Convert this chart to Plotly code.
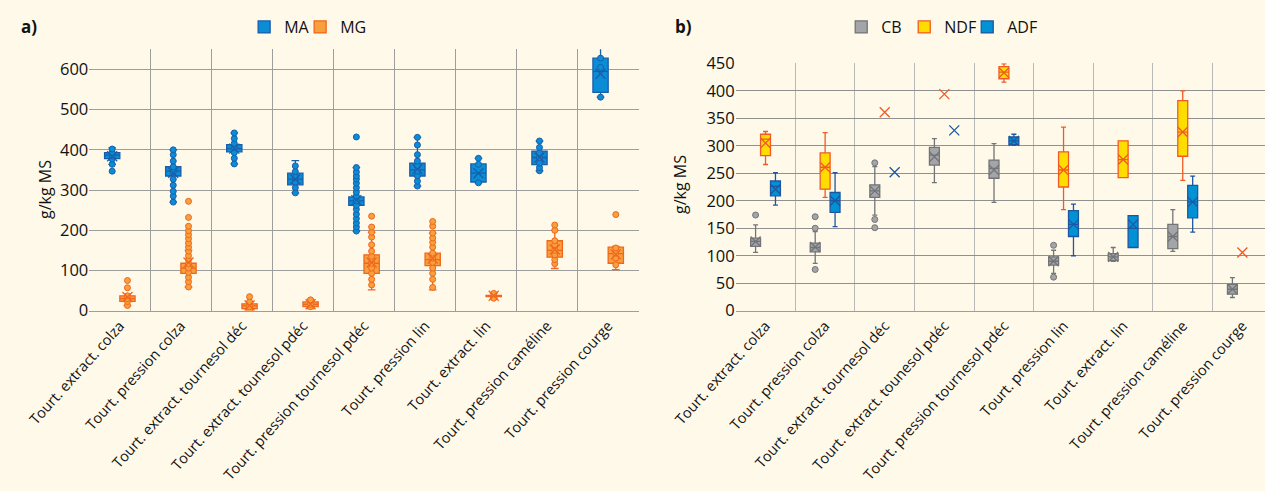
import plotly.graph_objects as go

CATS = ["Tourt. extract. colza", "Tourt. pression colza", "Tourt. extract. tournesol déc",
        "Tourt. extract. tounesol pdéc", "Tourt. pression tournesol pdéc", "Tourt. pression lin",
        "Tourt. extract. lin", "Tourt. pression caméline", "Tourt. pression courge"]

# ---- Panel a: MA / MG (g/kg MS) ----
MA_Q1 = [378, 335, 395, 313, 262, 335, 320, 363, 543]
MA_MED = [387, 347, 403, 327, 273, 350, 342, 381, 595]
MA_Q3 = [393, 358, 413, 342, 283, 367, 365, 397, 628]
MA_LO = [364, 270, 365, 293, 198, 310, 318, 348, 531]
MA_HI = [405, 400, 442, 373, 356, 431, 379, 422, 670]
MA_MEAN = [384, 343, 403, 327, 275, 352, 342, 381, 589]
MA_PTS = [[402, 393, 385, 377, 364, 347],
          [400, 388, 372, 358, 345, 327, 312, 297, 285, 270],
          [442, 428, 416, 406, 393, 379, 365],
          [360, 346, 332, 320, 306, 293],
          [432, 356, 345, 335, 327, 317, 306, 295, 285, 273, 262, 252, 240, 229, 218, 208, 198],
          [431, 412, 388, 372, 360, 347, 335, 322, 310],
          [379, 364, 318],
          [422, 406, 393, 380, 367, 356, 348],
          [628, 605, 531]]

MG_Q1 = [23, 93, 5, 10, 93, 112, 35, 133, 118]
MG_MED = [30, 106, 12, 16, 118, 127, 37, 150, 142]
MG_Q3 = [37, 118, 17, 22, 139, 143, 38, 174, 158]
MG_LO = [13, 59, 2, 5, 52, 52, 31, 105, 102]
MG_HI = [37, 150, 22, 28, 195, 193, 43, 200, 160]
MG_MEAN = [34, 120, 13, 16, 120, 130, 37, 152, 140]
MG_PTS = [[75, 57, 37, 30, 23, 13],
          [272, 232, 210, 199, 189, 179, 168, 158, 148, 137, 127, 117, 106, 95, 83, 72, 59],
          [35, 22, 10, 2],
          [27, 16, 10],
          [235, 208, 195, 183, 164, 148, 135, 127, 118, 106, 93, 78, 64],
          [222, 210, 193, 181, 170, 158, 143, 131, 120, 106, 93, 78, 58],
          [43, 31],
          [213, 200, 174, 164, 150, 139, 127, 117],
          [239, 156, 143, 131, 114]]

# ---- Panel b: CB / NDF / ADF (g/kg MS) ----
CB_Q1 = [117, 107, 206, 265, 241, 83, 91, 113, 30]
CB_MED = [126, 115, 218, 283, 259, 90, 98, 135, 39]
CB_Q3 = [132, 123, 229, 297, 274, 98, 104, 157, 48]
CB_LO = [106, 86, 174, 233, 197, 68, 90, 108, 24]
CB_HI = [156, 144, 262, 313, 304, 110, 115, 184, 60]
CB_MEAN = [126, 116, 218, 280, 256, 90, 98, 135, 39]
CB_PTS = [[174], [171, 150, 75], [269, 166, 151], [], [], [119, 61], [], [], []]

NDF_Q1 = [282, 221, None, None, 422, 225, 242, 281, None]
NDF_MED = [312, 261, None, None, 434, 256, 275, 325, None]
NDF_Q3 = [321, 287, None, None, 444, 289, 309, 382, None]
NDF_LO = [266, 206, None, None, 416, 184, 242, 237, None]
NDF_HI = [326, 324, None, None, 449, 334, 309, 400, None]
NDF_MEAN = [305, 261, 361, 394, 433, 256, 275, 325, 106]

ADF_Q1 = [209, 179, None, None, 302, 135, 115, 169, None]
ADF_MED = [226, 200, None, None, 309, 157, 150, 198, None]
ADF_Q3 = [236, 215, None, None, 316, 182, 173, 228, None]
ADF_LO = [192, 153, None, None, 301, 100, 115, 143, None]
ADF_HI = [251, 251, None, None, 321, 194, 173, 245, None]
ADF_MEAN = [221, 200, 252, 328, 309, 157, 157, 198, None]

BG = "#FFF9E9"
GRID = "#9E9E9E"
FONT = "Open Sans"

fig = go.Figure()


def add_series(name, q1, med, q3, lo, hi, mean, pts, fill, line, xa, ya, leg, psize):
    idx = [i for i in range(len(CATS)) if q1[i] is not None]
    fig.add_trace(go.Box(
        x=[CATS[i] for i in idx], q1=[q1[i] for i in idx], median=[med[i] for i in idx],
        q3=[q3[i] for i in idx], lowerfence=[lo[i] for i in idx], upperfence=[hi[i] for i in idx],
        name=name, offsetgroup=name, legend=leg, fillcolor=fill,
        line=dict(color=line, width=1.3), whiskerwidth=0.5, boxpoints=False,
        xaxis=xa, yaxis=ya, hoverinfo="skip"))
    if pts is not None:
        xs, ys = [], []
        for i, p in enumerate(pts):
            for v in p:
                xs.append(CATS[i])
                ys.append(v)
        if xs:
            fig.add_trace(go.Box(
                x=xs, y=ys, name=name, offsetgroup=name, legend=leg, showlegend=False,
                boxpoints="all", jitter=0, pointpos=0, fillcolor="rgba(0,0,0,0)",
                line=dict(width=0, color="rgba(0,0,0,0)"),
                marker=dict(size=psize, color=fill, line=dict(color=line, width=1)),
                xaxis=xa, yaxis=ya, hoverinfo="skip"))
    mi = [i for i in range(len(CATS)) if mean[i] is not None]
    fig.add_trace(go.Box(
        x=[CATS[i] for i in mi], y=[mean[i] for i in mi], name=name, offsetgroup=name,
        legend=leg, showlegend=False, boxpoints="all", jitter=0, pointpos=0,
        fillcolor="rgba(0,0,0,0)", line=dict(width=0, color="rgba(0,0,0,0)"),
        marker=dict(symbol="x-thin", size=10, color=line, line=dict(color=line, width=1.3)),
        xaxis=xa, yaxis=ya, hoverinfo="skip"))


def add_spacer(xa, ya, leg):
    # empty, invisible legend entry so the last real entry is not clipped
    fig.add_trace(go.Scatter(x=[None], y=[None], mode="markers", name=" ", legend=leg,
                             marker=dict(size=1, color="rgba(0,0,0,0)",
                                         line=dict(width=0, color="rgba(0,0,0,0)")),
                             xaxis=xa, yaxis=ya, hoverinfo="skip"))


add_series("MA", MA_Q1, MA_MED, MA_Q3, MA_LO, MA_HI, MA_MEAN, MA_PTS,
           "#0A8DD6", "#1A5EA8", "x", "y", "legend", 6)
add_series("MG", MG_Q1, MG_MED, MG_Q3, MG_LO, MG_HI, MG_MEAN, MG_PTS,
           "#F7A03C", "#F0661E", "x", "y", "legend", 6)
add_spacer("x", "y", "legend")
add_series("CB", CB_Q1, CB_MED, CB_Q3, CB_LO, CB_HI, CB_MEAN, CB_PTS,
           "#A3A5A8", "#727477", "x2", "y2", "legend2", 6)
add_series("NDF", NDF_Q1, NDF_MED, NDF_Q3, NDF_LO, NDF_HI, NDF_MEAN, None,
           "#FFDD00", "#F15A24", "x2", "y2", "legend2", 6)
add_series("ADF", ADF_Q1, ADF_MED, ADF_Q3, ADF_LO, ADF_HI, ADF_MEAN, None,
           "#0092D5", "#1F56A0", "x2", "y2", "legend2", 6)
add_spacer("x2", "y2", "legend2")

xcommon = dict(type="category", categoryorder="array", categoryarray=CATS, tickson="boundaries",
               showgrid=True, gridwidth=1, ticks="", tickangle=-48,
               showline=True, linecolor=GRID, linewidth=1, automargin=False,
               tickfont=dict(family=FONT, size=14.5, color="#111111"))
ycommon = dict(showgrid=True, gridwidth=1, zeroline=False, ticks="",
               automargin=False, tickfont=dict(family=FONT, size=16.5, color="#111111"))

fig.update_layout(
    width=1265, height=491,
    paper_bgcolor=BG, plot_bgcolor=BG,
    margin=dict(l=0, r=0, t=0, b=0, pad=0),
    boxmode="group", boxgap=0.5, boxgroupgap=0.0,
    font=dict(family=FONT, color="#111111"),
    xaxis=dict(domain=[0.0706, 0.5049], range=[-0.5, 8.5], anchor="y", gridcolor=GRID, **xcommon),
    yaxis=dict(domain=[0.3672, 0.8996], range=[0, 650], dtick=100, anchor="x", gridcolor=GRID, **ycommon),
    xaxis2=dict(domain=[0.5816, 1.0], range=[-0.5, 8.38], anchor="y2", gridcolor="#B9B9B9", **xcommon),
    yaxis2=dict(domain=[0.3672, 0.871], range=[0, 450], dtick=50, anchor="x2", gridcolor="#909090", **ycommon),
    legend=dict(orientation="h", x=0.193, xanchor="left", y=0.945, yanchor="middle",
                entrywidth=11, bgcolor="rgba(0,0,0,0)", font=dict(family=FONT, size=16)),
    legend2=dict(orientation="h", x=0.665, xanchor="left", y=0.945, yanchor="middle",
                 entrywidth=18, bgcolor="rgba(0,0,0,0)", font=dict(family=FONT, size=16)),
    annotations=[
        dict(text="<b>a)</b>", x=29 / 1265, y=1 - 27 / 491, xref="paper", yref="paper",
             xanchor="center", yanchor="middle", showarrow=False, font=dict(family=FONT, size=17)),
        dict(text="<b>b)</b>", x=683 / 1265, y=1 - 27 / 491, xref="paper", yref="paper",
             xanchor="center", yanchor="middle", showarrow=False, font=dict(family=FONT, size=17)),
        dict(text="g/kg MS", x=45 / 1265, y=1 - 190 / 491, xref="paper", yref="paper",
             xanchor="center", yanchor="middle", showarrow=False, textangle=-90,
             font=dict(family=FONT, size=16)),
        dict(text="g/kg MS", x=680 / 1265, y=1 - 185 / 491, xref="paper", yref="paper",
             xanchor="center", yanchor="middle", showarrow=False, textangle=-90,
             font=dict(family=FONT, size=16)),
    ],
)

fig.write_html("out.html", config={"displayModeBar": False},
               post_script="document.body.style.margin='0';document.body.style.padding='0';document.body.style.overflow='hidden';")
